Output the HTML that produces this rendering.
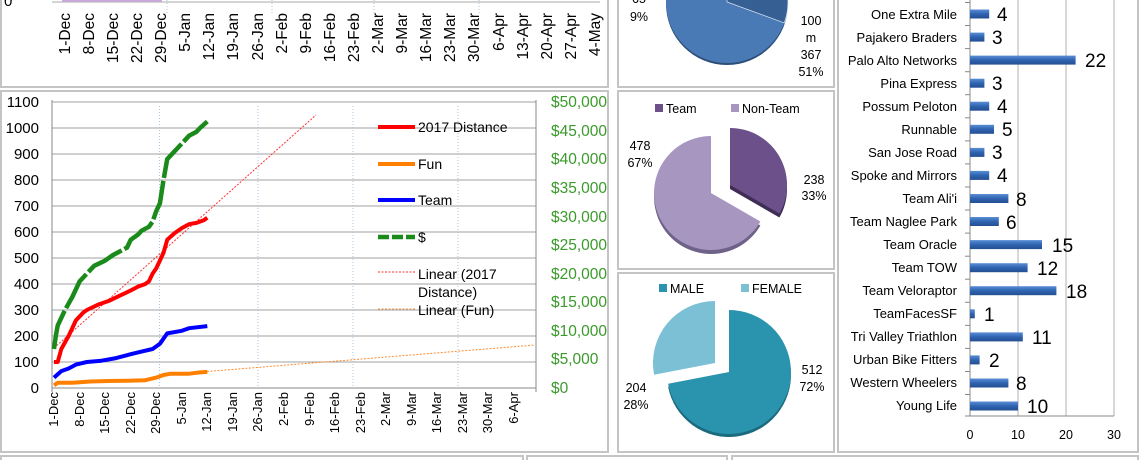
<!DOCTYPE html>
<html><head><meta charset="utf-8"><style>
html,body{margin:0;padding:0;background:#fff;}
svg{display:block;font-family:"Liberation Sans",sans-serif;}
</style></head><body>
<svg width="1140" height="460" viewBox="0 0 1140 460" xmlns="http://www.w3.org/2000/svg">
<defs>
<clipPath id="cA"><rect x="618" y="0" width="216" height="86"/></clipPath>
<linearGradient id="bar" x1="0" y1="0" x2="0" y2="1"><stop offset="0" stop-color="#5a8fd6"/><stop offset="0.5" stop-color="#2f63b0"/><stop offset="1" stop-color="#244f91"/></linearGradient>
</defs>
<g fill="none" stroke="#c4c4c4" stroke-width="2">
<rect x="1" y="-5" width="607" height="92"/>
<rect x="1" y="91" width="607" height="361"/>
<rect x="618" y="-5" width="216" height="92"/>
<rect x="618" y="91" width="216" height="178"/>
<rect x="618" y="273" width="216" height="179"/>
<rect x="838" y="-5" width="300" height="457"/>
<rect x="1" y="456" width="522" height="10"/>
<rect x="527" y="456" width="200" height="10"/>
<rect x="732" y="456" width="406" height="10"/>
</g>
<text x="4" y="6" font-size="15" fill="#000">0</text>
<line x1="52" y1="2" x2="600" y2="2" stroke="#aaa"/>
<rect x="62" y="0" width="100" height="2" fill="#c9a9d9"/>
<g stroke="#a8c4e0" stroke-dasharray="1,2"><line x1="167" y1="0" x2="167" y2="14"/><line x1="272" y1="0" x2="272" y2="14"/><line x1="374" y1="0" x2="374" y2="14"/><line x1="479" y1="0" x2="479" y2="14"/></g>
<g font-size="15.5" fill="#000" text-anchor="end">
<text transform="translate(70,13) rotate(-90)">1-Dec</text>
<text transform="translate(94,13) rotate(-90)">8-Dec</text>
<text transform="translate(118,13) rotate(-90)">15-Dec</text>
<text transform="translate(142,13) rotate(-90)">22-Dec</text>
<text transform="translate(166,13) rotate(-90)">29-Dec</text>
<text transform="translate(190,13) rotate(-90)">5-Jan</text>
<text transform="translate(214,13) rotate(-90)">12-Jan</text>
<text transform="translate(238,13) rotate(-90)">19-Jan</text>
<text transform="translate(263,13) rotate(-90)">26-Jan</text>
<text transform="translate(287,13) rotate(-90)">2-Feb</text>
<text transform="translate(311,13) rotate(-90)">9-Feb</text>
<text transform="translate(335,13) rotate(-90)">16-Feb</text>
<text transform="translate(359,13) rotate(-90)">23-Feb</text>
<text transform="translate(383,13) rotate(-90)">2-Mar</text>
<text transform="translate(407,13) rotate(-90)">9-Mar</text>
<text transform="translate(431,13) rotate(-90)">16-Mar</text>
<text transform="translate(455,13) rotate(-90)">23-Mar</text>
<text transform="translate(479,13) rotate(-90)">30-Mar</text>
<text transform="translate(504,13) rotate(-90)">6-Apr</text>
<text transform="translate(528,13) rotate(-90)">13-Apr</text>
<text transform="translate(552,13) rotate(-90)">20-Apr</text>
<text transform="translate(576,13) rotate(-90)">27-Apr</text>
<text transform="translate(600,13) rotate(-90)">4-May</text>
</g>
<g stroke="#a0a0a0" stroke-width="1">
<line x1="52" y1="102" x2="536" y2="102"/><line x1="52" y1="128" x2="536" y2="128"/><line x1="52" y1="154" x2="536" y2="154"/><line x1="52" y1="180" x2="536" y2="180"/><line x1="52" y1="206" x2="536" y2="206"/><line x1="52" y1="232" x2="536" y2="232"/><line x1="52" y1="258" x2="536" y2="258"/><line x1="52" y1="284" x2="536" y2="284"/><line x1="52" y1="310" x2="536" y2="310"/><line x1="52" y1="336" x2="536" y2="336"/><line x1="52" y1="362" x2="536" y2="362"/>
</g>
<g stroke="#a8c4e0" stroke-dasharray="1,2"><line x1="159.5" y1="106" x2="159.5" y2="388"/><line x1="258" y1="106" x2="258" y2="388"/><line x1="353" y1="106" x2="353" y2="388"/><line x1="458" y1="106" x2="458" y2="388"/></g>
<g stroke="#888"><line x1="52" y1="100" x2="52" y2="392"/><line x1="52" y1="388" x2="536" y2="388"/><line x1="536" y1="100" x2="536" y2="392"/></g>
<g font-size="15" fill="#000" text-anchor="end">
<text x="39" y="107">1100</text><text x="39" y="133">1000</text><text x="39" y="159">900</text><text x="39" y="185">800</text><text x="39" y="211">700</text><text x="39" y="237">600</text><text x="39" y="263">500</text><text x="39" y="289">400</text><text x="39" y="315">300</text><text x="39" y="341">200</text><text x="39" y="367">100</text><text x="39" y="393">0</text>
</g>
<g font-size="15.5" fill="#3a9a2a">
<text x="551" y="107">$50,000</text><text x="551" y="136">$45,000</text><text x="551" y="164">$40,000</text><text x="551" y="193">$35,000</text><text x="551" y="222">$30,000</text><text x="551" y="250">$25,000</text><text x="551" y="279">$20,000</text><text x="551" y="307">$15,000</text><text x="551" y="336">$10,000</text><text x="551" y="364">$5,000</text><text x="551" y="393">$0</text>
</g>
<g font-size="13" fill="#000" text-anchor="end">
<text transform="translate(58,392) rotate(-90)">1-Dec</text>
<text transform="translate(84,392) rotate(-90)">8-Dec</text>
<text transform="translate(109,392) rotate(-90)">15-Dec</text>
<text transform="translate(135,392) rotate(-90)">22-Dec</text>
<text transform="translate(160,392) rotate(-90)">29-Dec</text>
<text transform="translate(186,392) rotate(-90)">5-Jan</text>
<text transform="translate(211,392) rotate(-90)">12-Jan</text>
<text transform="translate(237,392) rotate(-90)">19-Jan</text>
<text transform="translate(262,392) rotate(-90)">26-Jan</text>
<text transform="translate(288,392) rotate(-90)">2-Feb</text>
<text transform="translate(314,392) rotate(-90)">9-Feb</text>
<text transform="translate(339,392) rotate(-90)">16-Feb</text>
<text transform="translate(365,392) rotate(-90)">23-Feb</text>
<text transform="translate(390,392) rotate(-90)">2-Mar</text>
<text transform="translate(416,392) rotate(-90)">9-Mar</text>
<text transform="translate(441,392) rotate(-90)">16-Mar</text>
<text transform="translate(467,392) rotate(-90)">23-Mar</text>
<text transform="translate(492,392) rotate(-90)">30-Mar</text>
<text transform="translate(518,392) rotate(-90)">6-Apr</text>
</g>
<line x1="54" y1="348" x2="316" y2="115" stroke="#ff3030" stroke-width="1" stroke-dasharray="2,1.5"/>
<line x1="207" y1="371.5" x2="535" y2="345" stroke="#ff8c30" stroke-width="1" stroke-dasharray="2,1.5"/>
<polyline fill="none" stroke="#ff8000" stroke-width="4" stroke-linejoin="round" points="54,385.4 57.7,382.8 72.3,382.8 90.5,381.5 108.8,381 127,380.7 145.3,380.2 156.2,377.6 163.5,375 170.8,373.7 189,373.7 200,372.4 207.3,371.9"/>
<polyline fill="none" stroke="#0000ff" stroke-width="4" stroke-linejoin="round" points="54,377.6 61.3,371.1 68.6,368.5 75.9,364.6 86.9,362 101.5,360.7 116,358.1 130.7,354.2 141.6,351.6 152.6,349 159.9,343.8 167.2,333.4 181.8,330.8 189,328.2 207.3,326.1"/>
<polyline fill="none" stroke="#ff0000" stroke-width="4" stroke-linejoin="round" points="54,362 57.7,362 61.3,349 68.6,336 75.9,320.4 83.2,312.6 86.9,310 97.8,304.8 108.8,300.9 119.7,295.7 130.7,290.5 138,286.6 145.3,284 148.9,281.4 152.6,273.6 156.2,268.4 159.9,260.6 163.5,252.8 167.2,239.8 174.5,233.3 181.8,228.1 189,224.2 196.4,222.9 203.7,220.3 207.3,217.7"/>
<polyline fill="none" stroke="#1a8a1a" stroke-width="4.5" stroke-dasharray="40,3" stroke-linejoin="round" points="54,349 55.8,336 57.7,325.6 65,310 72.3,297 79.6,281.4 86.9,273.6 94.2,265.8 105.1,260.6 112.4,255.4 119.7,251.5 127,247.6 130.7,239.8 138,234.6 141.6,230.7 148.9,226.8 152.6,221.6 156.2,211.2 159.9,203.4 163.5,180 167.2,159.2 174.5,151.4 181.8,143.6 189,135.8 196.4,131.9 200,128 207.3,121.5"/>
<line x1="378" y1="127" x2="415" y2="127" stroke="#ff0000" stroke-width="4"/>
<line x1="378" y1="164" x2="415" y2="164" stroke="#ff8000" stroke-width="4"/>
<line x1="378" y1="200" x2="415" y2="200" stroke="#0000ff" stroke-width="4"/>
<line x1="378" y1="237" x2="415" y2="237" stroke="#1a8a1a" stroke-width="4.5" stroke-dasharray="11,3"/>
<line x1="378" y1="272" x2="415" y2="272" stroke="#ff3030" stroke-width="1" stroke-dasharray="2,1.5"/>
<line x1="378" y1="309" x2="415" y2="309" stroke="#ff8c30" stroke-width="1" stroke-dasharray="2,1.5"/>
<g font-size="14" fill="#000">
<text x="418" y="132">2017 Distance</text><text x="418" y="169">Fun</text><text x="418" y="205">Team</text><text x="418" y="242">$</text>
<text x="418" y="279">Linear (2017</text><text x="418" y="297">Distance)</text><text x="418" y="315">Linear (Fun)</text>
</g>
<g clip-path="url(#cA)">
<circle cx="727" cy="4" r="61" fill="#2c4f7a"/>
<circle cx="727" cy="2" r="61" fill="#4a7ab5"/>
<path d="M727,2 L727,-59 A61,61 0 0 1 784.3,22.9 Z" fill="#365f93" stroke="#dfe8f3" stroke-width="0.7"/>
</g>
<g font-size="12.5" fill="#000" text-anchor="middle">
<text x="639" y="3">65</text><text x="639" y="21">9%</text>
<text x="811" y="25">100</text><text x="811" y="42">m</text><text x="811" y="59">367</text><text x="811" y="76">51%</text>
</g>
<rect x="655" y="104" width="8" height="8" fill="#6b5089"/><text x="666" y="113" font-size="12.5">Team</text>
<rect x="731" y="104" width="8" height="8" fill="#a797c0"/><text x="742" y="113" font-size="12.5">Non-Team</text>
<path d="M711,197 L760.4,225.5 A57,57 0 1 1 711,140 Z" fill="#6f6288"/>
<path d="M711,193 L760.4,221.5 A57,57 0 1 1 711,136 Z" fill="#a797c0"/>
<path d="M730,189 L730,132 A57,57 0 0 1 779.4,217.5 Z" fill="#3f2d55"/>
<path d="M730,185 L730,128 A57,57 0 0 1 779.4,213.5 Z" fill="#6b5089"/>
<g font-size="12.5" fill="#000" text-anchor="middle">
<text x="640" y="150">478</text><text x="640" y="167">67%</text>
<text x="814" y="184">238</text><text x="814" y="200">33%</text>
</g>
<rect x="659" y="284" width="8" height="8" fill="#2a93ad"/><text x="670" y="293" font-size="12.5">MALE</text>
<rect x="741" y="284" width="8" height="8" fill="#7cc0d6"/><text x="752" y="293" font-size="12.5">FEMALE</text>
<path d="M729,375 L729,313 A62,62 0 1 1 668.1,386.8 Z" fill="#1c6a7e"/>
<path d="M729,372 L729,310 A62,62 0 1 1 668.1,383.8 Z" fill="#2a93ad"/>
<path d="M715,363 L654.1,374.8 A62,62 0 0 1 715,301 Z" fill="#7cc0d6"/>
<g font-size="12.5" fill="#000" text-anchor="middle">
<text x="812" y="374">512</text><text x="812" y="391">72%</text>
<text x="636" y="392">204</text><text x="636" y="409">28%</text>
</g>
<g stroke="#b0b0b0"><line x1="1018" y1="0" x2="1018" y2="416"/><line x1="1066" y1="0" x2="1066" y2="416"/><line x1="1114" y1="0" x2="1114" y2="416"/></g>
<g stroke="#888"><line x1="970" y1="0" x2="970" y2="416"/><line x1="970" y1="416" x2="1114" y2="416"/>
<line x1="965" y1="2.5" x2="970" y2="2.5"/><line x1="965" y1="25.5" x2="970" y2="25.5"/><line x1="965" y1="48.6" x2="970" y2="48.6"/><line x1="965" y1="71.7" x2="970" y2="71.7"/><line x1="965" y1="94.7" x2="970" y2="94.7"/><line x1="965" y1="117.8" x2="970" y2="117.8"/><line x1="965" y1="140.9" x2="970" y2="140.9"/><line x1="965" y1="163.9" x2="970" y2="163.9"/><line x1="965" y1="187" x2="970" y2="187"/><line x1="965" y1="210" x2="970" y2="210"/><line x1="965" y1="233.1" x2="970" y2="233.1"/><line x1="965" y1="256.2" x2="970" y2="256.2"/><line x1="965" y1="279.2" x2="970" y2="279.2"/><line x1="965" y1="302.3" x2="970" y2="302.3"/><line x1="965" y1="325.4" x2="970" y2="325.4"/><line x1="965" y1="348.4" x2="970" y2="348.4"/><line x1="965" y1="371.5" x2="970" y2="371.5"/><line x1="965" y1="394.5" x2="970" y2="394.5"/><line x1="965" y1="416" x2="970" y2="416"/>
</g>
<g fill="url(#bar)">
<rect x="970" y="9.5" width="19.2" height="9"/>
<rect x="970" y="32.6" width="14.4" height="9"/>
<rect x="970" y="55.6" width="105.6" height="9"/>
<rect x="970" y="78.7" width="14.4" height="9"/>
<rect x="970" y="101.7" width="19.2" height="9"/>
<rect x="970" y="124.8" width="24" height="9"/>
<rect x="970" y="147.9" width="14.4" height="9"/>
<rect x="970" y="170.9" width="19.2" height="9"/>
<rect x="970" y="194" width="38.4" height="9"/>
<rect x="970" y="217" width="28.8" height="9"/>
<rect x="970" y="240.1" width="72" height="9"/>
<rect x="970" y="263.2" width="57.6" height="9"/>
<rect x="970" y="286.2" width="86.4" height="9"/>
<rect x="970" y="309.3" width="4.8" height="9"/>
<rect x="970" y="332.4" width="52.8" height="9"/>
<rect x="970" y="355.4" width="9.6" height="9"/>
<rect x="970" y="378.5" width="38.4" height="9"/>
<rect x="970" y="401.5" width="48" height="9"/>
</g>
<g font-size="13" fill="#000" text-anchor="end">
<text x="957" y="19">One Extra Mile</text>
<text x="957" y="42">Pajakero Braders</text>
<text x="957" y="65">Palo Alto Networks</text>
<text x="957" y="88">Pina Express</text>
<text x="957" y="111">Possum Peloton</text>
<text x="957" y="134">Runnable</text>
<text x="957" y="157">San Jose Road</text>
<text x="957" y="180">Spoke and Mirrors</text>
<text x="957" y="203">Team Ali'i</text>
<text x="957" y="226">Team Naglee Park</text>
<text x="957" y="249">Team Oracle</text>
<text x="957" y="272">Team TOW</text>
<text x="957" y="295">Team Veloraptor</text>
<text x="957" y="318">TeamFacesSF</text>
<text x="957" y="341">Tri Valley Triathlon</text>
<text x="957" y="364">Urban Bike Fitters</text>
<text x="957" y="387">Western Wheelers</text>
<text x="957" y="410">Young Life</text>
</g>
<g font-size="19" fill="#000">
<text x="997" y="21">4</text>
<text x="992" y="44">3</text>
<text x="1085" y="67">22</text>
<text x="992" y="90">3</text>
<text x="997" y="113">4</text>
<text x="1002" y="136">5</text>
<text x="992" y="159">3</text>
<text x="997" y="182">4</text>
<text x="1016" y="206">8</text>
<text x="1006" y="229">6</text>
<text x="1052" y="252">15</text>
<text x="1037" y="275">12</text>
<text x="1066" y="298">18</text>
<text x="984" y="321">1</text>
<text x="1032" y="344">11</text>
<text x="989" y="367">2</text>
<text x="1016" y="390">8</text>
<text x="1027" y="413">10</text>
</g>
<g font-size="12.5" fill="#000" text-anchor="middle">
<text x="970" y="439">0</text><text x="1018" y="439">10</text><text x="1066" y="439">20</text><text x="1114" y="439">30</text>
</g>
</svg>
</body></html>
